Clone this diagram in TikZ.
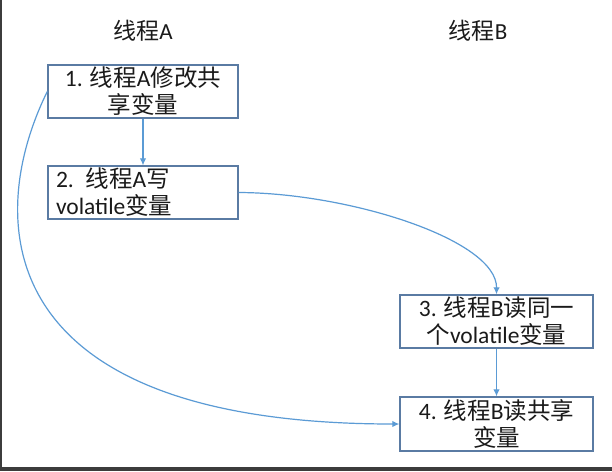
\documentclass[tikz,border=0pt]{standalone}
\usepackage{fontspec}
\setmainfont{Carlito}
\newfontfamily\cjk{Noto Sans CJK SC}
\usetikzlibrary{arrows.meta}
\definecolor{boxc}{HTML}{5A7BA3}
\definecolor{arrc}{HTML}{5B9BD5}
\definecolor{framec}{HTML}{3C3C3C}
\definecolor{txtc}{HTML}{1A1A1A}
\begin{document}
\begin{tikzpicture}[x=1pt,y=-1pt,
  box/.style={draw=boxc, line width=1.4pt, minimum width=190pt, minimum height=53pt,
    inner sep=0pt, align=center, text=txtc, font=\fontsize{23.5}{27}\selectfont},
  head/.style={text=txtc, font=\fontsize{23}{27}\selectfont},
  conn/.style={draw=arrc, line width=1.2pt, -{Latex[length=7pt,width=6.5pt]}}]
\useasboundingbox (0,0) rectangle (612,471);
\fill[white] (0,0) rectangle (612,471);
\draw[framec, line width=2pt] (1,0) -- (1,471);
\draw[framec, line width=4pt] (0,469) -- (612,469);
\node[head] (ha) at (143,31) {{\cjk 线程}A};
\node[head] (hb) at (478,31) {{\cjk 线程}B};
\node[box] (b1) at (143,91.5) {1. {\cjk 线程}A{\cjk 修改共}\\{\cjk 享变量}};
\node[box, align=left, text width=174pt] (b2) at (143,192.5) {2. {\cjk 线程}A{\cjk 写}\\volatile{\cjk 变量}};
\node[box, minimum width=193pt] (b3) at (496.5,321.5) {3. {\cjk 线程}B{\cjk 读同一}\\{\cjk 个}volatile{\cjk 变量}};
\node[box, minimum width=193pt, minimum height=54pt] (b4) at (496.5,424) {4. {\cjk 线程}B{\cjk 读共享}\\{\cjk 变量}};
\draw[conn] (b1.south) -- (b2.north);
\draw[conn] (b3.south) -- (b4.north);
\draw[conn] (b2.east) .. controls (350,193) and (497,240) .. (b3.north);
\draw[conn] (b1.west) .. controls (-16,220) and (-10,424) .. (b4.west);
\end{tikzpicture}
\end{document}
